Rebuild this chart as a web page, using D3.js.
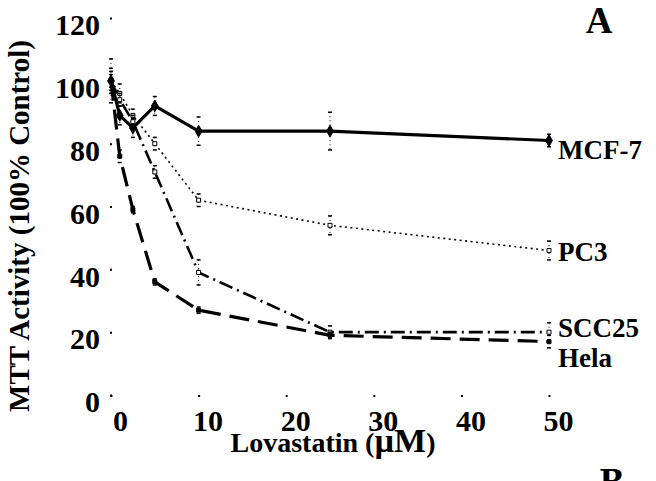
<!DOCTYPE html>
<html>
<head>
<meta charset="utf-8">
<script src="https://cdn.jsdelivr.net/npm/d3@7"></script>
<style>
  html, body { margin: 0; padding: 0; background: #fff; }
  svg { display: block; }
  text { font-family: "Liberation Serif", "Times New Roman", serif; font-weight: bold; fill: #000; }
</style>
</head>
<body>
<svg id="chart" width="656" height="481"></svg>
<script>
// ---- data ----
const doses = [0, 1, 2.5, 5, 10, 25, 50];
const seriesNames = ["MCF-7", "PC3", "SCC25", "Hela"];
const mcf7  = [100, 89, 85, 92, 84, 84, 81];
const pc3   = [100, 96, 89, 80, 62, 54, 46];
const scc25 = [100, 94, 87, 71, 39, 20, 20];
const hela  = [100, 76, 59, 36, 27, 19, 17];
const mcf7Err  = [7, 3, 3, 3, 4.5, 6, 2];
const pc3Err   = [4, 3, 2, 2, 2, 3, 3];
const scc25Err = [3, 2, 2, 2, 4, 2, 3];
const helaErr  = [2, 2, 1, 1, 1, 1, 2];
const xTicks = [0, 10, 20, 30, 40, 50];
const yTicks = [0, 20, 40, 60, 80, 100, 120];

// ---- layout ----
const svg = d3.select("#chart");
const x = d3.scaleLinear().domain([0, 50]).range([111, 549]);
const y = d3.scaleLinear().domain([0, 120]).range([395, 18]);

// axes (no domain line, tiny tick marks)
const yAxis = svg.append("g").attr("transform", "translate(112,0)")
  .call(d3.axisLeft(y).tickValues(yTicks).tickSize(2).tickPadding(10));
yAxis.select(".domain").remove();
yAxis.selectAll(".tick line").attr("stroke", "#000").attr("stroke-width", 2);
yAxis.selectAll(".tick text").attr("font-size", 30).attr("dy", "0.56em")
  .style("font-family", "'Liberation Serif', serif").style("font-weight", "bold").attr("fill", "#000");

const xAxis = svg.append("g").attr("transform", "translate(0,395)")
  .call(d3.axisBottom(x).tickValues(xTicks).tickSize(2).tickPadding(13));
xAxis.select(".domain").remove();
xAxis.selectAll(".tick line").attr("stroke", "#000").attr("stroke-width", 2);
xAxis.selectAll(".tick text").attr("font-size", 30).attr("dx", 9)
  .style("font-family", "'Liberation Serif', serif").style("font-weight", "bold").attr("fill", "#000");

// axis titles
svg.append("text")
  .attr("transform", "translate(29,226) rotate(-90)")
  .attr("text-anchor", "middle")
  .attr("font-size", 29)
  .text("MTT Activity (100% Control)");

const xt = svg.append("text")
  .attr("x", 333).attr("y", 452)
  .attr("text-anchor", "middle")
  .attr("font-size", 28);
xt.append("tspan").text("Lovastatin (");
xt.append("tspan").attr("font-size", 34).text("µM");
xt.append("tspan").text(")");

// panel letters
svg.append("text").attr("x", 599).attr("y", 33).attr("text-anchor", "middle").attr("font-size", 37).text("A");
svg.append("text").attr("x", 612).attr("y", 494).attr("text-anchor", "middle").attr("font-size", 37).text("B");

// series
const allValues = [mcf7, pc3, scc25, hela];
const allErrs = [mcf7Err, pc3Err, scc25Err, helaErr];
const styles = [
  { w: 3.2, dash: null },
  { w: 1.6, dash: "2,3.5" },
  { w: 2.6, dash: "14,5,2,5" },
  { w: 3.2, dash: "20,9" }
];
const labelDy = [18, 11, 5, 25];

const line = d3.line().x(d => x(d[0])).y(d => y(d[1]));

allValues.forEach((vals, i) => {
  const pts = doses.map((d, j) => [d, vals[j]]);
  const g = svg.append("g");
  // error bars
  pts.forEach((p, j) => {
    const e = allErrs[i][j];
    const cx = x(p[0]);
    g.append("line").attr("x1", cx).attr("x2", cx)
      .attr("y1", y(p[1] + e)).attr("y2", y(p[1] - e))
      .attr("stroke", "#000").attr("stroke-width", 1).attr("stroke-dasharray", "1,3");
    [p[1] + e, p[1] - e].forEach(v => {
      g.append("line").attr("x1", cx - 2).attr("x2", cx + 2)
        .attr("y1", y(v)).attr("y2", y(v))
        .attr("stroke", "#000").attr("stroke-width", 1.5);
    });
  });
  g.append("path").datum(pts)
    .attr("d", line)
    .attr("fill", "none")
    .attr("stroke", "#000")
    .attr("stroke-width", styles[i].w)
    .attr("stroke-dasharray", styles[i].dash)
    .attr("stroke-linejoin", "round");
  // markers
  g.selectAll("path.m").data(pts).enter().append("path")
    .attr("class", "m")
    .attr("d", d3.symbol().type(i === 0 ? d3.symbolDiamond : d3.symbolSquare).size(i === 0 ? 40 : 16))
    .attr("transform", d => `translate(${x(d[0])},${y(d[1])})`)
    .attr("fill", i === 0 || i === 3 ? "#000" : "#fff")
    .attr("stroke", "#000").attr("stroke-width", 1);
  // end label
  svg.append("text")
    .attr("x", x(50) + 9)
    .attr("y", y(vals[vals.length - 1]) + labelDy[i])
    .attr("font-size", 27)
    .text(seriesNames[i]);
});
</script>
</body>
</html>
